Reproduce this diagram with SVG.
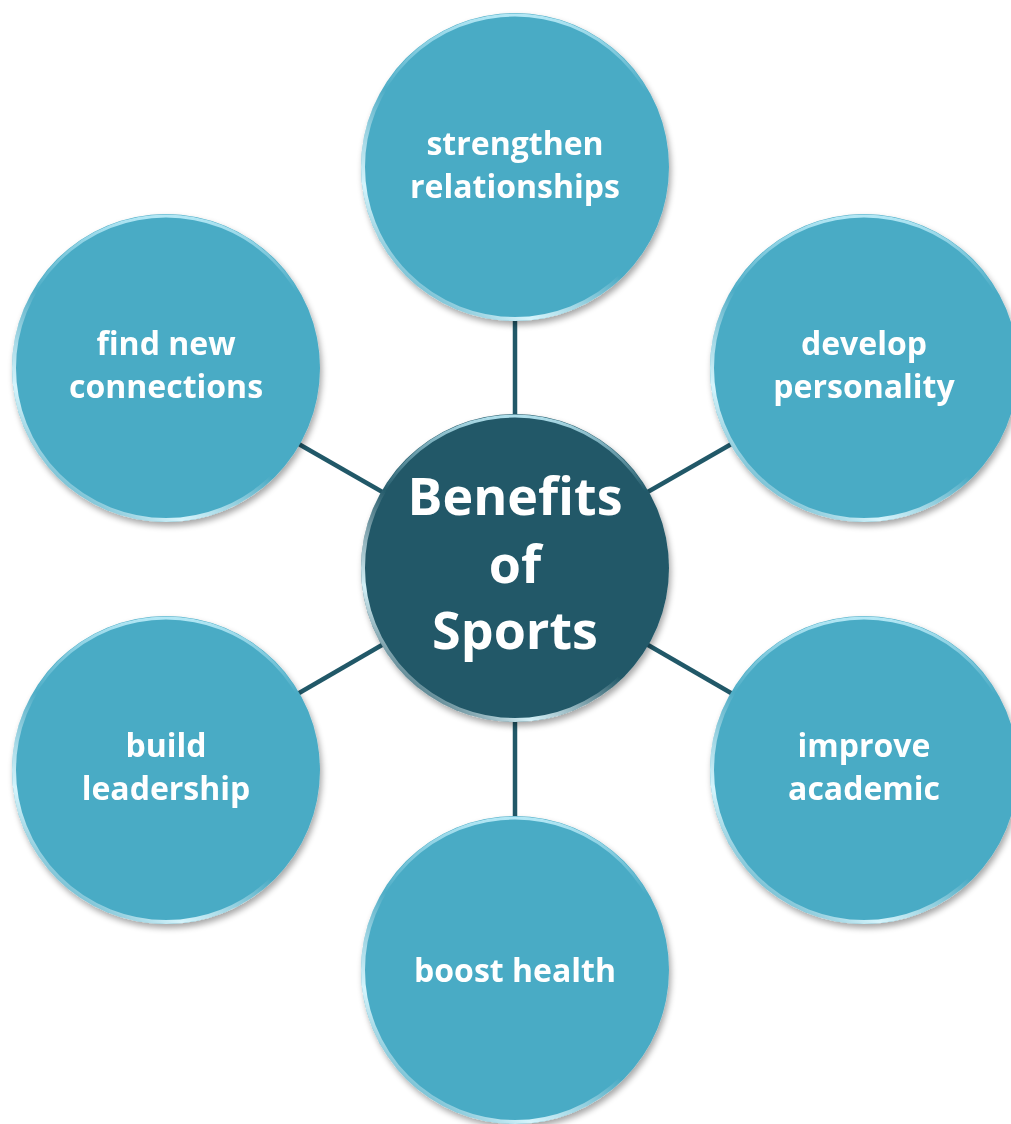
<svg xmlns="http://www.w3.org/2000/svg" width="1011" height="1124" viewBox="0 0 1011 1124">
<defs>
<style>
.outer{fill:#4AABC5;}
.center{fill:#215868;}
.rim{fill:none;stroke:url(#rimGrad);stroke-width:4;}
.rimTop{fill:none;stroke:url(#rimTopGrad);stroke-width:3;}
.conn{stroke:#215868;stroke-width:4.5;}
.lbl{font-family:"Open Sans",Lato,"Liberation Sans",sans-serif;font-weight:bold;fill:#ffffff;text-anchor:middle;font-size:32px;}
.big{font-size:52px;}
</style>
<linearGradient id="rimGrad" x1="0.9" y1="0" x2="0.1" y2="1">
<stop offset="0" stop-color="#ffffff" stop-opacity="0"/>
<stop offset="0.55" stop-color="#ffffff" stop-opacity="0"/>
<stop offset="0.78" stop-color="#dcf8ff" stop-opacity="0.95"/>
<stop offset="0.95" stop-color="#ffffff" stop-opacity="0"/>
</linearGradient>
<linearGradient id="rimTopGrad" x1="0" y1="0" x2="0" y2="1">
<stop offset="0" stop-color="#bfeefa" stop-opacity="0.9"/>
<stop offset="0.25" stop-color="#bfeefa" stop-opacity="0"/>
<stop offset="1" stop-color="#bfeefa" stop-opacity="0"/>
</linearGradient>
<filter id="shadow" x="-20%" y="-20%" width="140%" height="140%">
<feGaussianBlur in="SourceAlpha" stdDeviation="3"/>
<feOffset dx="2" dy="4" result="b"/>
<feComponentTransfer><feFuncA type="linear" slope="0.35"/></feComponentTransfer>
<feMerge><feMergeNode/><feMergeNode in="SourceGraphic"/></feMerge>
</filter>
</defs>
<rect width="1011" height="1124" fill="#ffffff"/>
<g id="connectors">
<line class="conn" x1="515" y1="568" x2="515" y2="167"/>
<line class="conn" x1="515" y1="568" x2="864" y2="368"/>
<line class="conn" x1="515" y1="568" x2="864" y2="770"/>
<line class="conn" x1="515" y1="568" x2="515" y2="970"/>
<line class="conn" x1="515" y1="568" x2="166" y2="770"/>
<line class="conn" x1="515" y1="568" x2="166" y2="368"/>
</g>
<g id="node-center" filter="url(#shadow)">
<circle class="center" cx="515" cy="568" r="154"/>
<circle class="rim" cx="515" cy="568" r="152"/>
<circle class="rimTop" cx="515" cy="568" r="152"/>
<text class="lbl big" x="515" y="515">Benefits</text>
<text class="lbl big" x="515" y="583">of</text>
<text class="lbl big" x="515" y="649">Sports</text>
</g>
<g id="node-strengthen" filter="url(#shadow)">
<circle class="outer" cx="515" cy="167" r="154"/>
<circle class="rim" cx="515" cy="167" r="152"/>
<circle class="rimTop" cx="515" cy="167" r="152"/>
<text class="lbl" x="515" y="155">strengthen</text>
<text class="lbl" x="515" y="198">relationships</text>
</g>
<g id="node-develop" filter="url(#shadow)">
<circle class="outer" cx="864" cy="368" r="154"/>
<circle class="rim" cx="864" cy="368" r="152"/>
<circle class="rimTop" cx="864" cy="368" r="152"/>
<text class="lbl" x="864" y="355">develop</text>
<text class="lbl" x="864" y="398">personality</text>
</g>
<g id="node-improve" filter="url(#shadow)">
<circle class="outer" cx="864" cy="770" r="154"/>
<circle class="rim" cx="864" cy="770" r="152"/>
<circle class="rimTop" cx="864" cy="770" r="152"/>
<text class="lbl" x="864" y="757">improve</text>
<text class="lbl" x="864" y="800">academic</text>
</g>
<g id="node-boost" filter="url(#shadow)">
<circle class="outer" cx="515" cy="970" r="154"/>
<circle class="rim" cx="515" cy="970" r="152"/>
<circle class="rimTop" cx="515" cy="970" r="152"/>
<text class="lbl" x="515" y="982">boost health</text>
</g>
<g id="node-build" filter="url(#shadow)">
<circle class="outer" cx="166" cy="770" r="154"/>
<circle class="rim" cx="166" cy="770" r="152"/>
<circle class="rimTop" cx="166" cy="770" r="152"/>
<text class="lbl" x="166" y="757">build</text>
<text class="lbl" x="166" y="800">leadership</text>
</g>
<g id="node-find" filter="url(#shadow)">
<circle class="outer" cx="166" cy="368" r="154"/>
<circle class="rim" cx="166" cy="368" r="152"/>
<circle class="rimTop" cx="166" cy="368" r="152"/>
<text class="lbl" x="166" y="355">find new</text>
<text class="lbl" x="166" y="398">connections</text>
</g>
</svg>
